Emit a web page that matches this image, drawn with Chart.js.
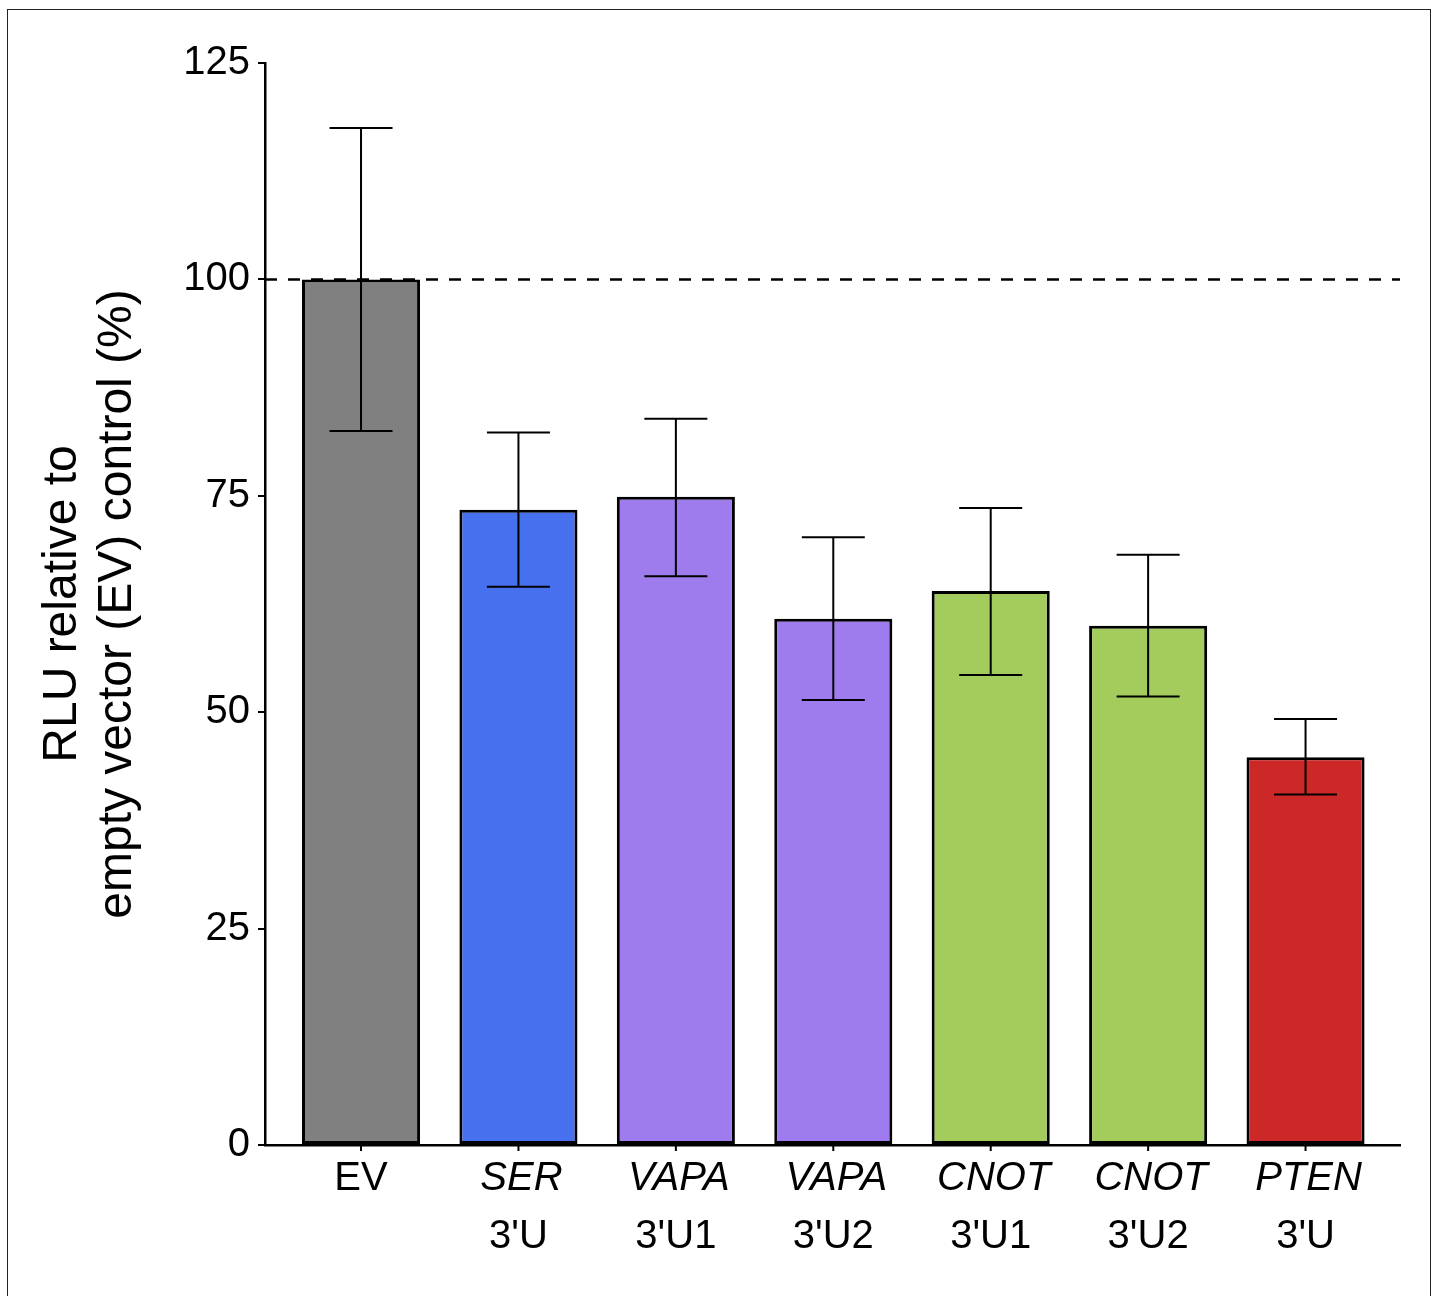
<!DOCTYPE html>
<html>
<head>
<meta charset="utf-8">
<script src="https://cdn.jsdelivr.net/npm/chart.js@4"></script>
<style>
    html, body { margin: 0; padding: 0; background: #fff; overflow: hidden; }
    #wrap { position: absolute; left: 0; top: 0; width: 1436px; height: 1296px; }
    #frame { position: absolute; left: 7px; top: 9px; width: 1424px; height: 1400px; border: 1.5px solid #222; box-sizing: border-box; pointer-events: none; }
</style>
</head>
<body>
<div id="wrap"><canvas id="rluChart"></canvas></div>
<div id="frame"></div>
<script>
// data
const geneNames = ["EV", "SER", "VAPA", "VAPA", "CNOT", "CNOT", "PTEN"];
const regionNames = ["", "3'U", "3'U1", "3'U2", "3'U1", "3'U2", "3'U"];
const italicName = [false, true, true, true, true, true, true];
const means = [100, 73.4, 74.9, 60.8, 64.0, 60.0, 44.8];
const errHigh = [117.5, 82.3, 83.9, 70.2, 73.6, 68.2, 49.2];
const errLow = [82.5, 64.5, 65.7, 51.4, 54.3, 51.8, 40.5];
const yTicks = [0, 25, 50, 75, 100, 125];
const refValue = 100;

const barColors = ["#808080", "#4770ee", "#9f7cee", "#9f7cee", "#a3cc5c", "#a3cc5c", "#cc2828"];
const FONT = "'Liberation Sans', Arial, Helvetica, sans-serif";

const refLinePlugin = {
    id: "refLine",
    beforeDatasetsDraw(chart) {
        const { ctx, chartArea, scales } = chart;
        const y = scales.y.getPixelForValue(refValue);
        ctx.save();
        ctx.strokeStyle = "#000";
        ctx.lineWidth = 2.5;
        ctx.setLineDash([12, 11]);
        ctx.beginPath();
        ctx.moveTo(chartArea.left, y);
        ctx.lineTo(chartArea.right, y);
        ctx.stroke();
        ctx.restore();
    }
};

const errorBarPlugin = {
    id: "errorBars",
    afterDatasetsDraw(chart) {
        const { ctx, scales } = chart;
        const meta = chart.getDatasetMeta(0);
        ctx.save();
        ctx.strokeStyle = "#000";
        ctx.lineWidth = 2;
        meta.data.forEach((bar, i) => {
            const x = bar.x;
            const yHi = scales.y.getPixelForValue(errHigh[i]);
            const yLo = scales.y.getPixelForValue(errLow[i]);
            const cap = 31.5;
            ctx.beginPath();
            ctx.moveTo(x, yHi);
            ctx.lineTo(x, yLo);
            ctx.moveTo(x - cap, yHi);
            ctx.lineTo(x + cap, yHi);
            ctx.moveTo(x - cap, yLo);
            ctx.lineTo(x + cap, yLo);
            ctx.stroke();
        });
        ctx.restore();
    }
};

const xLabelPlugin = {
    id: "xLabels",
    afterDraw(chart) {
        const { ctx, chartArea, scales } = chart;
        ctx.save();
        ctx.fillStyle = "#000";
        ctx.strokeStyle = "#000";
        ctx.lineWidth = 2;
        ctx.textAlign = "center";
        ctx.textBaseline = "alphabetic";
        geneNames.forEach((name, i) => {
            const x = scales.x.getPixelForValue(i);
            // small tick below the axis
            ctx.beginPath();
            ctx.moveTo(x, chartArea.bottom);
            ctx.lineTo(x, chartArea.bottom + 6);
            ctx.stroke();
            ctx.font = (italicName[i] ? "italic " : "") + "40px " + FONT;
            ctx.fillText(name, x + (italicName[i] ? 3 : 0), chartArea.bottom + 45);
            if (regionNames[i]) {
                ctx.font = "40px " + FONT;
                ctx.fillText(regionNames[i], x, chartArea.bottom + 103);
            }
        });
        ctx.restore();
    }
};

document.addEventListener("DOMContentLoaded", function () {
    const ctx = document.getElementById("rluChart");

    new Chart(ctx, {
        type: "bar",
        data: {
            datasets: [{
                data: means.map((v, i) => ({ x: i, y: v })),
                backgroundColor: barColors,
                borderColor: "#000",
                borderWidth: 3,
                borderSkipped: false,
                barPercentage: 0.75,
                categoryPercentage: 1.0
            }]
        },
        options: {
            responsive: true,
            maintainAspectRatio: false,
            animation: false,
            layout: { padding: { left: 30, right: 36, top: 63, bottom: 0 } },
            plugins: {
                legend: { display: false },
                tooltip: { enabled: false }
            },
            scales: {
                x: {
                    type: "linear",
                    min: -0.61,
                    max: 6.6,
                    offset: false,
                    grid: { offset: false, display: false },
                    border: { display: true, color: "#000", width: 2.5 },
                    ticks: { display: false, stepSize: 1, includeBounds: false },
                    afterFit(scale) { scale.height = 1296 - 1145; }
                },
                y: {
                    min: 0,
                    max: 125,
                    afterBuildTicks(scale) { scale.ticks = yTicks.map(v => ({ value: v })); },
                    grid: { drawOnChartArea: false, drawTicks: true, tickLength: 7, color: "#000", lineWidth: 2 },
                    border: { display: true, color: "#000", width: 2.5 },
                    ticks: { color: "#000", padding: 8, font: { family: FONT, size: 40 } },
                    title: {
                        display: true,
                        text: ["RLU relative to", "empty vector (EV) control (%)"],
                        color: "#000",
                        font: { family: FONT, size: 48, lineHeight: 1.15 },
                        padding: { top: 5, bottom: 0 }
                    },
                    afterFit(scale) { scale.width = 265 - 30; }
                }
            }
        },
        plugins: [refLinePlugin, errorBarPlugin, xLabelPlugin]
    });
});
</script>
</body>
</html>
